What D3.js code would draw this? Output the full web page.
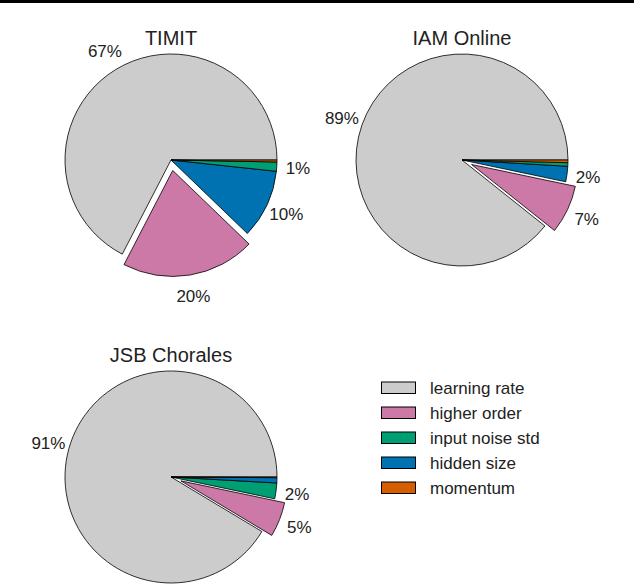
<!DOCTYPE html>
<html>
<head>
<meta charset="utf-8">
<script src="https://cdn.jsdelivr.net/npm/d3@7/dist/d3.min.js"></script>
<style>
  html, body { margin: 0; padding: 0; background: #fff; }
  svg { display: block; font-family: "Liberation Sans", Arial, sans-serif; }
</style>
</head>
<body>
<svg id="chart" width="634" height="584"></svg>
<script>
// ── Data ───────────────────────────────────────────────────────────────
const params   = ['learning rate', 'higher order', 'input noise std', 'hidden size', 'momentum'];
const colors   = ['#cccccc', '#cc79a7', '#009e73', '#0072b2', '#d55e00'];
const datasets = ['TIMIT', 'IAM Online', 'JSB Chorales'];
// percent of variance per parameter (same order as params)
const timitVals = [67.4, 20.4, 1.4, 10.5, 0.3];
const iamVals   = [89.3, 7.4, 0.55, 2.35, 0.4];
const jsbVals   = [91.4, 5.3, 2.4, 0.8, 0.1];
const exploded  = 'higher order';

const svg = d3.select('#chart');
const R = 106;
const color = d3.scaleOrdinal().domain(params).range(colors);

// top rule
svg.append('rect').attr('x', 0).attr('y', 0).attr('width', 634).attr('height', 3).attr('fill', '#000');

// pie grid positions
const colX = d3.scalePoint().domain([0, 1]).range([171, 462]);
const rowY = d3.scalePoint().domain([0, 1]).range([160, 477]);
const panels = [
  { name: datasets[0], vals: timitVals, col: 0, row: 0 },
  { name: datasets[1], vals: iamVals,   col: 1, row: 0 },
  { name: datasets[2], vals: jsbVals,   col: 0, row: 1 }
];

// matplotlib style: start at 3 o'clock, counter‑clockwise
const pie = d3.pie().value(d => d.v).sort(null)
  .startAngle(Math.PI / 2).endAngle(Math.PI / 2 - 2 * Math.PI);
const arc = d3.arc().innerRadius(0).outerRadius(R);
const labelArc = d3.arc().innerRadius(R * 1.2).outerRadius(R * 1.2);

panels.forEach(p => {
  const cx = colX(p.col), cy = rowY(p.row);
  const total = d3.sum(p.vals);
  const items = params.map((k, i) => ({ k, v: p.vals[i] }))
    .sort((a, b) => b.v - a.v);
  const arcs = pie(items);
  const g = svg.append('g').attr('transform', `translate(${cx},${cy})`);

  const shift = d => {
    if (d.data.k !== exploded) return [0, 0];
    const a = (d.startAngle + d.endAngle) / 2;
    return [0.1 * R * Math.sin(a), -0.1 * R * Math.cos(a)];
  };

  g.selectAll('path').data(arcs).join('path')
    .attr('d', arc)
    .attr('transform', d => `translate(${shift(d)})`)
    .attr('fill', d => color(d.data.k))
    .attr('stroke', '#000').attr('stroke-width', 0.8).attr('stroke-linejoin', 'round');

  g.selectAll('text.pct').data(arcs.filter(d => d.data.v / total * 100 >= 1)).join('text')
    .attr('class', 'pct')
    .attr('x', d => labelArc.centroid(d)[0] + shift(d)[0])
    .attr('y', d => labelArc.centroid(d)[1] + shift(d)[1])
    .attr('dy', '0.36em')
    .attr('text-anchor', 'middle')
    .attr('font-size', 17).attr('fill', '#222')
    .text(d => Math.round(d.data.v / total * 100) + '%');

  svg.append('text')
    .attr('x', cx).attr('y', cy - 115)
    .attr('text-anchor', 'middle')
    .attr('font-size', 20).attr('fill', '#222')
    .text(p.name);
});

// ── Legend ─────────────────────────────────────────────────────────────
const legY = d3.scalePoint().domain(params).range([387.5, 487.5]);
const leg = svg.append('g');
const rows = leg.selectAll('g').data(params).join('g')
  .attr('transform', d => `translate(0,${legY(d)})`);
rows.append('rect')
  .attr('x', 381.5).attr('y', -5.5).attr('width', 34).attr('height', 11.5)
  .attr('fill', d => color(d)).attr('stroke', '#000').attr('stroke-width', 1);
rows.append('text')
  .attr('x', 430).attr('y', 0).attr('dy', '0.36em')
  .attr('font-size', 17).attr('fill', '#222')
  .text(d => d);
</script>
</body>
</html>
